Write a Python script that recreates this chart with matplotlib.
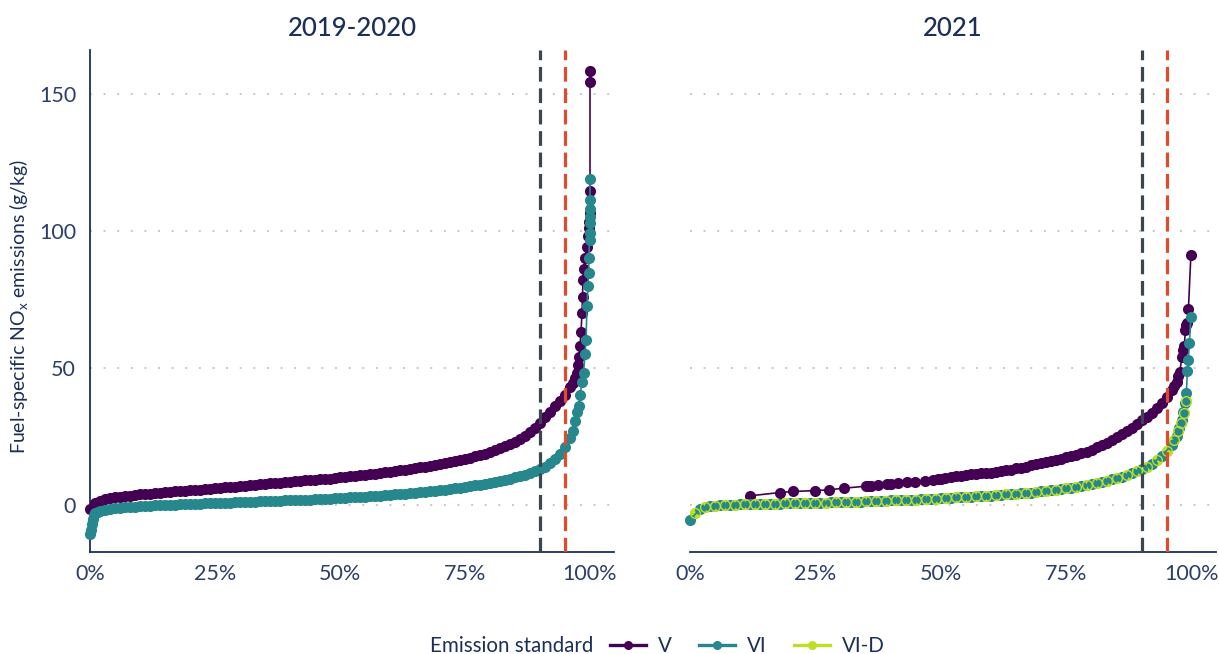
import numpy as np
import matplotlib
matplotlib.use("Agg")
import matplotlib.pyplot as plt
from matplotlib.lines import Line2D
from matplotlib.ticker import PercentFormatter

plt.rcParams['font.family'] = ['Lato', 'DejaVu Sans']

# colours
col_v = '#440154'
col_vi = '#26878c'
col_vid = '#bddf26'
navy = '#1b2f58'
tick_col = '#2c3f68'

# ---- 2019-2020 -------------------------------------------------------------
# V: one value per percentile 0..96, then the upper tail
v_1920_pct = list(range(0, 97)) + [96.5, 97, 97.3, 97.6, 97.8, 98.0, 98.2, 98.4, 98.5, 98.6,
                                   98.8, 99.0, 99.3, 99.5, 99.7, 99.8, 99.9, 100, 100, 100]
v_1920_val = [-1.5, 0.8, 1.5, 2.0, 2.4, 2.7, 3.0, 3.2, 3.4, 3.6,
              3.8, 4.0, 4.1, 4.3, 4.4, 4.6, 4.7, 4.9, 5.0, 5.2,
              5.3, 5.5, 5.6, 5.8, 5.9, 6.1, 6.2, 6.4, 6.5, 6.7,
              6.8, 7.0, 7.2, 7.3, 7.5, 7.6, 7.8, 7.9, 8.1, 8.3,
              8.4, 8.6, 8.7, 8.9, 9.0, 9.2, 9.3, 9.5, 9.6, 9.8,
              10.0, 10.2, 10.4, 10.6, 10.8, 11.0, 11.2, 11.4, 11.6, 11.9,
              12.1, 12.4, 12.6, 12.9, 13.1, 13.4, 13.7, 14.0, 14.3, 14.6,
              14.9, 15.3, 15.6, 16.0, 16.4, 16.8, 17.2, 17.7, 18.2, 18.7,
              19.3, 19.9, 20.6, 21.4, 22.2, 23.1, 24.1, 25.2, 26.5, 28.0,
              30.0, 32.0, 34.0, 36.0, 38.0, 40.2, 43.0,
              44.5, 46.3, 48.0, 51.0, 54.0, 58.0, 63.0, 70.0, 76.0, 82.0,
              86.0, 90.0, 94.0, 98.0, 101.0, 103.4, 106.6, 114.4, 154.5, 158.2]

# VI: low head, one value per percentile 2..96, then the upper tail
vi_1920_pct = [0, 0.2, 0.4, 0.6, 0.8, 1.0, 1.5] + list(range(2, 97)) + \
              [96.5, 97.0, 97.4, 97.7, 98.0, 98.4, 98.7, 99.0, 99.2, 99.4,
               99.6, 99.7, 99.8, 99.9, 100, 100, 100, 100, 100, 100]
vi_1920_val = [-10.5, -9.0, -7.0, -5.0, -3.8, -3.0, -2.5,
               -2.2, -1.8, -1.5, -1.3, -1.1, -0.9, -0.8, -0.6,
               -0.5, -0.4, -0.3, -0.2, -0.1, 0.0, 0.05, 0.1, 0.2, 0.25,
               0.3, 0.4, 0.45, 0.5, 0.6, 0.65, 0.7, 0.8, 0.85, 0.9,
               1.0, 1.05, 1.1, 1.2, 1.25, 1.3, 1.4, 1.45, 1.5, 1.6,
               1.65, 1.7, 1.8, 1.85, 1.9, 2.0, 2.1, 2.2, 2.3, 2.4,
               2.5, 2.6, 2.7, 2.8, 2.9, 3.0, 3.1, 3.3, 3.4, 3.5,
               3.7, 3.8, 4.0, 4.1, 4.3, 4.5, 4.6, 4.8, 5.0, 5.2,
               5.4, 5.6, 5.8, 6.0, 6.3, 6.5, 6.8, 7.1, 7.4, 7.7,
               8.0, 8.4, 8.8, 9.2, 9.6, 10.0, 10.4, 11.0, 11.6, 12.3,
               13.1, 14.0, 15.2, 16.8, 18.6, 21.0, 24.5,
               27.0, 30.5, 34.0, 36.0, 40.0, 45.0, 48.1, 55.0, 60.2, 72.4,
               80.0, 84.6, 90.0, 96.7, 99.3, 103.0, 105.0, 108.0, 111.3, 118.9]

# ---- 2021 --------------------------------------------------------------------
v_21_pct = [11.95, 17.9, 20.6, 24.9, 27.7, 30.7, 35.0, 35.5, 36.0, 37.5,
            39.2, 40.0, 41.5, 43.2, 44.8, 46.8, 48.5, 49.5, 50.0, 50.8,
            52, 53, 54, 55, 56, 57, 58, 59, 60, 61,
            62, 63, 64, 65, 66, 67, 68, 69, 70, 71,
            72, 73, 74, 75, 76, 77, 78, 79, 80, 81,
            82, 83, 84, 85, 86, 87, 88, 89, 90, 91,
            92, 93, 94, 95, 96, 96.5, 97.0, 97.3, 97.6, 98.0,
            98.3, 98.5, 98.7, 98.9, 99.1, 99.3, 99.8]
v_21_val = [3.3, 4.5, 4.9, 5.2, 5.5, 6.1, 6.8, 6.9, 7.0, 7.2,
            7.5, 7.6, 7.9, 8.3, 8.5, 8.8, 9.2, 9.4, 9.6, 9.7,
            10.1, 10.4, 10.6, 10.9, 11.1, 11.3, 11.5, 11.6, 11.8, 12.1,
            12.4, 12.6, 12.9, 13.3, 13.6, 14.0, 14.5, 14.9, 15.3, 15.7,
            16.1, 16.5, 16.9, 17.3, 17.7, 18.2, 18.8, 19.4, 20.0, 21.0,
            21.8, 22.7, 23.7, 24.8, 25.9, 27.0, 28.2, 29.4, 30.8, 32.2,
            33.7, 35.3, 37.2, 39.4, 42.0, 43.5, 45.0, 47.0, 48.5, 54.0,
            56.5, 58.0, 63.9, 65.7, 66.5, 71.4, 91.3]

vi_21_pct = list(range(0, 97, 2)) + [97.0, 97.5, 98.0, 98.3, 98.6, 98.9, 99.1, 99.3, 99.5, 99.8]
vi_21_val = [-5.5, -1.5, -0.5, -0.15, 0.05, 0.15, 0.25, 0.3, 0.4, 0.45,
             0.5, 0.6, 0.7, 0.8, 0.9, 1.0, 1.1, 1.2, 1.3, 1.45,
             1.6, 1.7, 1.85, 2.0, 2.2, 2.4, 2.6, 2.8, 3.0, 3.2,
             3.4, 3.6, 3.9, 4.2, 4.5, 4.9, 5.3, 5.7, 6.3, 6.9,
             7.6, 8.4, 9.3, 10.3, 11.6, 13.1, 15.0, 17.8, 22.0,
             25.0, 28.0, 31.0, 34.0, 37.0, 41.0, 48.9, 52.9, 59.2, 68.6]

vid_21_pct = list(range(1, 96, 2)) + [96.5, 97.2, 97.8, 98.4, 98.8]
vid_21_val = [-2.8, -0.8, -0.3, 0.0, 0.1, 0.2, 0.3, 0.35, 0.4, 0.5,
              0.55, 0.65, 0.75, 0.85, 0.95, 1.05, 1.15, 1.25, 1.4, 1.5,
              1.65, 1.8, 1.9, 2.1, 2.3, 2.5, 2.7, 2.9, 3.1, 3.3,
              3.5, 3.8, 4.0, 4.3, 4.7, 5.1, 5.5, 6.0, 6.6, 7.2,
              8.0, 8.8, 9.8, 10.9, 12.3, 14.0, 16.3, 19.5,
              23.5, 27.0, 30.0, 33.5, 38.0]

panel_titles = ['2019-2020', '2021']
ref_lines = [90, 95]
ref_cols = ['#3a4650', '#e04b2e']
y_ticks = [0, 50, 100, 150]
x_ticks = [0, 25, 50, 75, 100]

ms = 8.0
lw = 1.2

fig = plt.figure(figsize=(12.19, 6.54), dpi=100)
W, H = 1219, 654
ax1 = fig.add_axes([90 / W, 1 - 552 / H, 524 / W, 502 / H])
ax2 = fig.add_axes([690 / W, 1 - 552 / H, 526 / W, 502 / H])


def draw_series(ax, pct, val, col, z, **kw):
    style = dict(color=col, lw=lw, marker='o', ms=ms, mew=0, zorder=z, clip_on=False)
    style.update(kw)
    ax.plot(pct, val, **style)


draw_series(ax1, v_1920_pct, v_1920_val, col_v, 3)
draw_series(ax1, vi_1920_pct, vi_1920_val, col_vi, 4)

draw_series(ax2, v_21_pct, v_21_val, col_v, 3)
# VI-D: line and filled points under VI, thin rings on top so both show through
draw_series(ax2, vid_21_pct, vid_21_val, col_vid, 3.5)
draw_series(ax2, vi_21_pct, vi_21_val, col_vi, 4)
draw_series(ax2, vid_21_pct, vid_21_val, col_vid, 5, lw=0, mfc='none', mec=col_vid, mew=1.0, ms=7.0)

for ax, title in zip([ax1, ax2], panel_titles):
    ax.set_xlim(0, 104.8)
    ax.set_ylim(-17.2, 166)
    ax.set_xticks(x_ticks)
    ax.xaxis.set_major_formatter(PercentFormatter(100, decimals=0))
    ax.set_yticks(y_ticks)
    ax.tick_params(length=0, labelsize=15.5, colors=tick_col)
    ax.tick_params(axis='x', pad=9)
    ax.tick_params(axis='y', pad=10)
    for s in ['top', 'right']:
        ax.spines[s].set_visible(False)
    ax.spines['bottom'].set_color(navy)
    ax.spines['bottom'].set_linewidth(1.3)
    ax.spines['left'].set_color(navy)
    ax.spines['left'].set_linewidth(1.3)
    ax.grid(axis='y', color='#c8c8c8', lw=1.4, linestyle=(0, (1, 6)))
    ax.set_axisbelow(True)
    for xv, c in zip(ref_lines, ref_cols):
        ax.axvline(xv, color=c, lw=2.3, dashes=(4.6, 2.1), zorder=6)
    ax.set_title(title, fontsize=18.5, color=navy, pad=10, fontweight='medium')

ax2.spines['left'].set_visible(False)
ax2.tick_params(axis='y', labelleft=False)

ax1.set_ylabel(r'Fuel-specific NO$_\mathregular{x}$ emissions (g/kg)', fontsize=14, color=navy)
ax1.yaxis.set_label_coords(-0.112, 0.49)

# legend at the bottom
fig.text(430 / W, 1 - 646 / H, 'Emission standard', fontsize=14.8, color=navy, va='center', ha='left')
handles = [Line2D([], [], color=c, lw=2.4, marker='o', ms=6.5, mew=0)
           for c in [col_v, col_vi, col_vid]]
leg = fig.legend(handles, ['V', 'VI', 'VI-D'], loc='center left',
                 bbox_to_anchor=(610 / W, 1 - 646 / H), ncol=3, frameon=False,
                 fontsize=14.8, handlelength=1.75, handletextpad=0.6, columnspacing=1.3,
                 borderaxespad=0, borderpad=0)
for t in leg.get_texts():
    t.set_color(navy)

fig.savefig('out.png', dpi=100)
